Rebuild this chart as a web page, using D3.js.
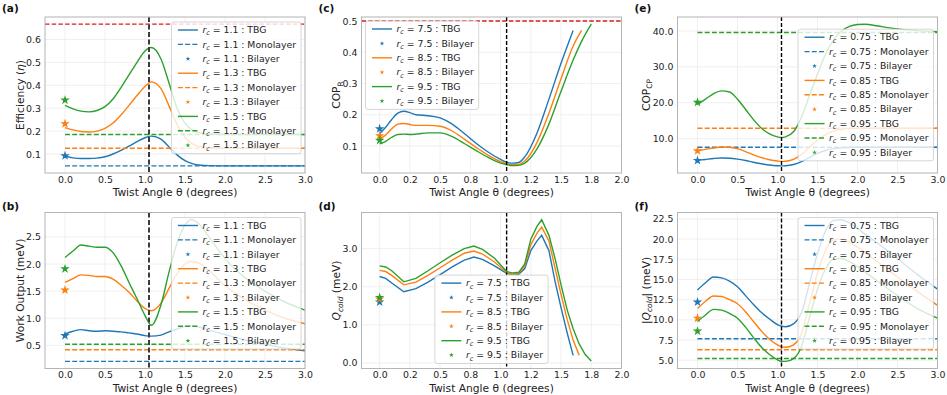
<!DOCTYPE html>
<html>
<head>
<meta charset="utf-8">
<script src="https://cdn.jsdelivr.net/npm/d3@7"></script>
<style>
  html, body { margin: 0; padding: 0; background: #fff; }
  svg { display: block; font-family: "DejaVu Sans", sans-serif; }
</style>
</head>
<body>
<svg id="vis" width="947" height="395"></svg>
<script>

// ---- data ----

// (a) efficiency, (b) work output : r_c = 1.1, 1.3, 1.5
const rcHeat = ["1.1", "1.3", "1.5"];
const effTheta = [0, 0.1, 0.2, 0.3, 0.4, 0.5, 0.6, 0.7, 0.8, 0.9, 1.0, 1.08, 1.2, 1.3, 1.4, 1.5, 1.6, 1.7, 1.8, 2.0, 2.5, 3.0];
const effTBG11 = [0.090, 0.083, 0.080, 0.080, 0.082, 0.088, 0.100, 0.116, 0.134, 0.154, 0.171, 0.178, 0.165, 0.131, 0.096, 0.071, 0.057, 0.051, 0.049, 0.048, 0.048, 0.048];
const effTBG13 = [0.215, 0.205, 0.198, 0.196, 0.200, 0.212, 0.235, 0.270, 0.312, 0.355, 0.395, 0.415, 0.385, 0.310, 0.230, 0.172, 0.143, 0.131, 0.127, 0.125, 0.125, 0.125];
const effTBG15 = [0.312, 0.297, 0.287, 0.284, 0.290, 0.307, 0.340, 0.390, 0.445, 0.500, 0.550, 0.565, 0.515, 0.410, 0.300, 0.235, 0.203, 0.191, 0.187, 0.185, 0.185, 0.185];
const effMono = [0.048, 0.125, 0.185];
const effBilayer = [0.092, 0.232, 0.335];
const carnotEff = 0.667;

const workTheta = [0, 0.1, 0.2, 0.3, 0.4, 0.5, 0.6, 0.7, 0.8, 0.9, 1.0, 1.08, 1.2, 1.3, 1.4, 1.5, 1.58, 1.7, 1.8, 2.0, 2.25, 2.5, 2.75, 3.0];
const workTBG11 = [0.71, 0.76, 0.79, 0.77, 0.76, 0.77, 0.76, 0.75, 0.73, 0.71, 0.68, 0.67, 0.69, 0.75, 0.80, 0.85, 0.86, 0.83, 0.78, 0.70, 0.60, 0.52, 0.45, 0.40];
const workTBG13 = [1.66, 1.73, 1.80, 1.79, 1.77, 1.77, 1.72, 1.61, 1.48, 1.32, 1.18, 1.14, 1.28, 1.55, 1.82, 2.00, 2.05, 2.00, 1.88, 1.60, 1.35, 1.15, 1.00, 0.90];
const workTBG15 = [2.12, 2.24, 2.35, 2.33, 2.31, 2.31, 2.21, 1.97, 1.66, 1.36, 1.05, 0.87, 1.25, 1.85, 2.38, 2.72, 2.82, 2.70, 2.50, 2.10, 1.75, 1.50, 1.30, 1.15];
const workMono = [0.205, 0.42, 0.52];
const workBilayer = [0.68, 1.52, 1.91];

// (c) COP_R, (d) Q_cold : r_c = 7.5, 8.5, 9.5
const rcFridge = ["7.5", "8.5", "9.5"];
const copTheta = [0, 0.05, 0.1, 0.15, 0.2, 0.25, 0.3, 0.4, 0.5, 0.6, 0.7, 0.8, 0.9, 1.0, 1.05, 1.1, 1.15, 1.2, 1.3, 1.4, 1.5, 1.6, 1.67, 1.75];
const copTBG75 = [0.140, 0.160, 0.185, 0.205, 0.211, 0.207, 0.200, 0.197, 0.190, 0.170, 0.140, 0.108, 0.080, 0.057, 0.048, 0.045, 0.047, 0.065, 0.140, 0.250, 0.365, 0.470, null, null];
const copTBG85 = [0.122, 0.135, 0.155, 0.170, 0.172, 0.169, 0.166, 0.166, 0.163, 0.148, 0.122, 0.095, 0.070, 0.050, 0.043, 0.040, 0.041, 0.052, 0.110, 0.205, 0.315, 0.420, 0.470, null];
const copTBG95 = [0.107, 0.115, 0.128, 0.137, 0.138, 0.137, 0.138, 0.142, 0.142, 0.130, 0.108, 0.085, 0.063, 0.045, 0.040, 0.037, 0.038, 0.045, 0.090, 0.170, 0.275, 0.375, 0.435, 0.490];
const copBilayer = [0.155, 0.133, 0.118];
const carnotCop = 0.5;

const qTheta = [0, 0.05, 0.1, 0.2, 0.3, 0.4, 0.5, 0.6, 0.7, 0.78, 0.85, 0.95, 1.05, 1.1, 1.15, 1.2, 1.25, 1.3, 1.34, 1.4, 1.45, 1.5, 1.55, 1.6, 1.65, 1.7, 1.75];
const qTBG75 = [2.27, 2.22, 2.10, 1.87, 1.95, 2.12, 2.32, 2.52, 2.70, 2.78, 2.72, 2.55, 2.35, 2.32, 2.33, 2.48, 2.95, 3.20, 3.35, 2.95, 2.15, 1.45, 0.80, 0.20, null, null, null];
const qTBG85 = [2.43, 2.40, 2.30, 2.05, 2.12, 2.30, 2.50, 2.70, 2.88, 2.94, 2.86, 2.65, 2.37, 2.33, 2.35, 2.55, 3.10, 3.40, 3.57, 3.20, 2.50, 1.80, 1.15, 0.60, 0.20, null, null];
const qTBG95 = [2.55, 2.52, 2.42, 2.13, 2.22, 2.42, 2.63, 2.83, 3.00, 3.07, 2.98, 2.75, 2.40, 2.36, 2.38, 2.60, 3.25, 3.58, 3.76, 3.35, 2.75, 2.05, 1.40, 0.90, 0.50, 0.22, 0.05];
const qBilayer = [1.60, 1.68, 1.72];

// (e) COP_CP, (f) |Q_cold| : r_c = 0.75, 0.85, 0.95
const rcPump = ["0.75", "0.85", "0.95"];
const cpTheta = [0, 0.1, 0.2, 0.3, 0.4, 0.5, 0.6, 0.7, 0.8, 0.9, 1.0, 1.05, 1.1, 1.2, 1.3, 1.4, 1.5, 1.6, 1.7, 1.8, 1.9, 2.0, 2.1, 2.25, 2.5, 2.75, 3.0];
const cpTBG75 = [3.95, 4.2, 4.45, 4.6, 4.55, 4.3, 3.9, 3.4, 3.0, 2.65, 2.45, 2.4, 2.45, 2.8, 3.6, 4.8, 5.9, 6.7, 7.2, 7.45, 7.55, 7.6, 7.6, 7.6, 7.6, 7.6, 7.6];
const cpTBG85 = [6.6, 7.0, 7.4, 7.65, 7.6, 7.2, 6.4, 5.5, 4.7, 4.1, 3.75, 3.65, 3.7, 4.2, 5.6, 7.6, 9.6, 11.1, 12.1, 12.6, 12.8, 12.9, 12.9, 12.9, 12.9, 12.9, 12.9];
const cpTBG95 = [19.5, 21.0, 22.5, 23.3, 23.0, 21.0, 18.2, 15.3, 12.9, 11.3, 10.5, 10.35, 10.5, 11.9, 16.0, 22.0, 28.0, 33.5, 37.5, 40.0, 41.3, 41.8, 41.9, 41.4, 40.6, 40.1, 39.8];
const cpMono = [7.6, 12.9, 39.6];
const cpBilayer = [3.9, 6.6, 20.1];

const qcTheta = [0, 0.1, 0.2, 0.3, 0.4, 0.5, 0.6, 0.7, 0.8, 0.9, 1.0, 1.05, 1.1, 1.2, 1.3, 1.4, 1.5, 1.6, 1.7, 1.8, 1.9, 2.0, 2.25, 2.5, 2.75, 3.0];
const qcTBG75 = [13.7, 14.6, 15.3, 15.2, 14.8, 14.1, 13.0, 11.9, 10.9, 10.1, 9.4, 9.2, 9.15, 9.5, 10.9, 14.5, 18.2, 21.0, 22.3, 22.4, 22.0, 21.3, 19.5, 17.6, 15.6, 13.8];
const qcTBG85 = [11.4, 12.3, 12.95, 12.9, 12.5, 12.0, 11.0, 9.8, 8.6, 7.6, 6.9, 6.65, 6.6, 6.9, 8.3, 12.0, 15.8, 18.6, 19.9, 20.0, 19.6, 19.0, 17.2, 15.3, 13.5, 11.8];
const qcTBG95 = [9.8, 10.6, 11.3, 11.2, 10.8, 10.2, 9.1, 7.8, 6.6, 5.7, 5.05, 4.85, 4.85, 5.2, 6.7, 10.3, 13.8, 16.3, 17.5, 17.6, 17.2, 16.6, 14.8, 13.0, 11.4, 10.2];
const qcMono = [7.65, 6.3, 5.2];
const qcBilayer = [12.2, 10.2, 8.6];

// ticks
const thetaTicksWide = [0, 0.5, 1.0, 1.5, 2.0, 2.5, 3.0];
const thetaTicksNarrow = [0, 0.25, 0.5, 0.75, 1.0, 1.25, 1.5, 1.75, 2.0];
const thetaLabelsNarrow = ["0.0", "0.2", "0.5", "0.8", "1.0", "1.2", "1.5", "1.8", "2.0"];
const magicAngle = 1.05;

// ---- layout ----
const svg = d3.select('#vis');
const COLORS = ["#1f77b4", "#ff7f0e", "#2ca02c"];
const COL_X = [45, 361.5, 677.5];
const ROW_Y = [17, 212.5];
const PW = 260, PH = 156;
const TICK_FS = 9.4;

const fmt1 = d3.format(".1f");

function tbgSeries(theta, arrays) {
    return arrays.map(function (vals) {
        return theta.map(function (t, i) { return [t, vals[i]]; });
    });
}

const panels = [
    {
        tag: "(a)", col: 0, row: 0, xDomain: [-0.25, 3.0], yDomain: [0.017, 0.698],
        xTicks: thetaTicksWide, xFmt: fmt1, yTicks: [0.1, 0.2, 0.3, 0.4, 0.5, 0.6], yFmt: fmt1,
        tbg: tbgSeries(effTheta, [effTBG11, effTBG13, effTBG15]), mono: effMono, bilayer: effBilayer,
        rc: rcHeat, hline: carnotEff, vGray: true, legend: "upper right", ylab: "eff", ylabX: -25,
        curve: d3.curveMonotoneX
    },
    {
        tag: "(b)", col: 0, row: 1, xDomain: [-0.25, 3.0], yDomain: [0.074, 2.95],
        xTicks: thetaTicksWide, xFmt: fmt1, yTicks: [0.5, 1.0, 1.5, 2.0, 2.5], yFmt: fmt1,
        tbg: tbgSeries(workTheta, [workTBG11, workTBG13, workTBG15]), mono: workMono, bilayer: workBilayer,
        rc: rcHeat, hline: null, vGray: true, legend: "upper right", ylab: "work", ylabX: -25,
        curve: d3.curveMonotoneX
    },
    {
        tag: "(c)", col: 1, row: 0, xDomain: [-0.15, 2.0], yDomain: [0.0135, 0.513],
        xTicks: thetaTicksNarrow, xFmt: function (d, i) { return thetaLabelsNarrow[i]; },
        yTicks: [0.1, 0.2, 0.3, 0.4, 0.5], yFmt: fmt1,
        tbg: tbgSeries(copTheta, [copTBG75, copTBG85, copTBG95]), mono: null, bilayer: copBilayer,
        rc: rcFridge, hline: carnotCop, vGray: false, legend: "upper left", ylab: "copr", ylabX: -25,
        curve: d3.curveMonotoneX
    },
    {
        tag: "(d)", col: 1, row: 1, xDomain: [-0.15, 2.0], yDomain: [-0.146, 3.95],
        xTicks: thetaTicksNarrow, xFmt: function (d, i) { return thetaLabelsNarrow[i]; },
        yTicks: [0, 1, 2, 3], yFmt: fmt1,
        tbg: tbgSeries(qTheta, [qTBG75, qTBG85, qTBG95]), mono: null, bilayer: qBilayer,
        rc: rcFridge, hline: null, vGray: false, legend: "lower center", ylab: "qcold", ylabX: -25,
        curve: d3.curveLinear
    },
    {
        tag: "(e)", col: 2, row: 0, xDomain: [-0.25, 3.0], yDomain: [0.42, 43.9],
        xTicks: thetaTicksWide, xFmt: fmt1, yTicks: [10, 20, 30, 40], yFmt: fmt1,
        tbg: tbgSeries(cpTheta, [cpTBG75, cpTBG85, cpTBG95]), mono: cpMono, bilayer: cpBilayer,
        rc: rcPump, hline: null, vGray: false, legend: "center right", ylab: "copcp", ylabX: -31.5,
        curve: d3.curveMonotoneX
    },
    {
        tag: "(f)", col: 2, row: 1, xDomain: [-0.25, 3.0], yDomain: [3.97, 23.3],
        xTicks: thetaTicksWide, xFmt: fmt1, yTicks: [5, 7.5, 10, 12.5, 15, 17.5, 20, 22.5], yFmt: fmt1,
        tbg: tbgSeries(qcTheta, [qcTBG75, qcTBG85, qcTBG95]), mono: qcMono, bilayer: qcBilayer,
        rc: rcPump, hline: null, vGray: false, legend: "upper right", ylab: "absq", ylabX: -31.5,
        curve: d3.curveMonotoneX
    }
];

const star = d3.symbol().type(d3.symbolStar);

panels.forEach(drawPanel);

// draw one subplot
function drawPanel(p, idx) {
    const x0 = COL_X[p.col], y0 = ROW_Y[p.row];
    const g = svg.append("g").attr("transform", "translate(" + x0 + "," + y0 + ")");

    const x = d3.scaleLinear().domain(p.xDomain).range([0, PW]);
    const y = d3.scaleLinear().domain(p.yDomain).range([PH, 0]);

    g.append("clipPath").attr("id", "clip" + idx)
        .append("rect").attr("width", PW).attr("height", PH);

    // grid
    g.selectAll(".gx").data(p.xTicks).enter().append("line")
        .attr("x1", x).attr("x2", x).attr("y1", 0).attr("y2", PH)
        .attr("stroke", "#ececec").attr("stroke-width", 0.8);
    g.selectAll(".gy").data(p.yTicks).enter().append("line")
        .attr("y1", y).attr("y2", y).attr("x1", 0).attr("x2", PW)
        .attr("stroke", "#ececec").attr("stroke-width", 0.8);

    const plot = g.append("g").attr("clip-path", "url(#clip" + idx + ")");

    const line = d3.line()
        .defined(function (d) { return d[1] != null; })
        .x(function (d) { return x(d[0]); })
        .y(function (d) { return y(d[1]); })
        .curve(p.curve);

    p.tbg.forEach(function (pts, i) {
        plot.append("path")
            .attr("d", line(pts))
            .attr("fill", "none")
            .attr("stroke", COLORS[i])
            .attr("stroke-width", 1.4);

        if (p.mono) {
            plot.append("path")
                .attr("d", d3.line()([[x(0), y(p.mono[i])], [x(3), y(p.mono[i])]]))
                .attr("stroke", COLORS[i])
                .attr("stroke-width", 1.4)
                .attr("stroke-dasharray", "5,2.2");
        }

        plot.append("path")
            .attr("d", star.size(28)())
            .attr("transform", "translate(" + x(0) + "," + y(p.bilayer[i]) + ")")
            .attr("fill", COLORS[i]);
    });

    // classical bound
    if (p.hline != null) {
        plot.append("line")
            .attr("x1", 0).attr("x2", PW)
            .attr("y1", y(p.hline)).attr("y2", y(p.hline))
            .attr("stroke", "#dd1c1c").attr("stroke-width", 1.4)
            .attr("stroke-dasharray", "4.5,2.2");
    }

    // magic angle
    plot.append("line")
        .attr("x1", x(magicAngle)).attr("x2", x(magicAngle))
        .attr("y1", 0).attr("y2", PH)
        .attr("stroke", p.vGray ? "#3c3c3c" : "#000")
        .attr("stroke-width", p.vGray ? 2 : 1.4)
        .attr("stroke-dasharray", p.vGray ? "5,2.5" : "4,2");

    // spines
    g.append("rect")
        .attr("width", PW).attr("height", PH)
        .attr("fill", "none").attr("stroke", "#b4b4b4").attr("stroke-width", 1);

    // axes
    const xAxis = g.append("g").attr("transform", "translate(0," + PH + ")")
        .call(d3.axisBottom(x).tickValues(p.xTicks).tickFormat(p.xFmt).tickSize(0).tickPadding(3));
    const yAxis = g.append("g")
        .call(d3.axisLeft(y).tickValues(p.yTicks).tickFormat(p.yFmt).tickSize(0).tickPadding(4));
    [xAxis, yAxis].forEach(function (a) {
        a.select(".domain").remove();
        a.attr("font-size", TICK_FS).attr("font-family", "DejaVu Sans");
        a.selectAll("text").attr("fill", "#222");
    });

    g.append("text")
        .attr("x", PW / 2).attr("y", PH + 23)
        .attr("text-anchor", "middle")
        .attr("font-size", 10.7).attr("fill", "#222")
        .text("Twist Angle θ (degrees)");

    // rotated y label; baseline placed so that glyphs centre on ylabX
    const yl = g.append("text")
        .attr("transform", "translate(" + (p.ylabX + 3.8) + "," + (PH / 2) + ") rotate(-90)")
        .attr("text-anchor", "middle")
        .attr("font-size", 10.7).attr("fill", "#222");
    yLabel(yl, p.ylab);

    // panel tag
    svg.append("text")
        .attr("x", x0 - 43).attr("y", y0 - (p.row ? 2.5 : 5.5))
        .attr("font-size", 10.5).attr("font-weight", "bold").attr("fill", "#111")
        .text(p.tag);

    drawLegend(g, p);
}

function yLabel(t, kind) {
    if (kind === "eff") {
        t.append("tspan").text("Efficiency (");
        t.append("tspan").attr("font-style", "italic").text("η");
        t.append("tspan").text(")");
    } else if (kind === "work") {
        t.text("Work Output (meV)");
    } else if (kind === "copr") {
        t.append("tspan").text("COP");
        t.append("tspan").attr("font-size", 7.5).attr("dy", 2.5).text("R");
    } else if (kind === "copcp") {
        t.append("tspan").text("COP");
        t.append("tspan").attr("font-size", 7.5).attr("dy", 2.5).text("CP");
    } else if (kind === "qcold") {
        t.append("tspan").attr("font-style", "italic").text("Q");
        t.append("tspan").attr("font-style", "italic").attr("font-size", 7.5).attr("dy", 2.5).text("cold");
        t.append("tspan").attr("dy", -2.5).text(" (meV)");
    } else {
        t.append("tspan").text("|");
        t.append("tspan").attr("font-style", "italic").text("Q");
        t.append("tspan").attr("font-style", "italic").attr("font-size", 7.5).attr("dy", 2.5).text("cold");
        t.append("tspan").attr("dy", -2.5).text("| (meV)");
    }
}

// legend drawn like matplotlib's: translucent box, handle + mathtext label
function drawLegend(g, p) {
    const rowH = 14.4, fs = 9.3;
    const items = [];
    p.rc.forEach(function (rc, i) {
        items.push({ rc: rc, kind: "TBG", c: i });
        if (p.mono) items.push({ rc: rc, kind: "Monolayer", c: i });
        items.push({ rc: rc, kind: "Bilayer", c: i });
    });

    const lg = g.append("g");
    const bg = lg.append("rect").attr("rx", 2.5)
        .attr("fill", "#fff").attr("fill-opacity", 0.8)
        .attr("stroke", "#cccccc").attr("stroke-width", 0.8);

    let maxW = 0;
    items.forEach(function (it, i) {
        const cy = 8 + i * rowH;
        if (it.kind === "Bilayer") {
            lg.append("path").attr("d", star.size(7)())
                .attr("transform", "translate(16.5," + cy + ")")
                .attr("fill", COLORS[it.c]);
        } else {
            lg.append("line").attr("x1", 6.5).attr("x2", 26.5).attr("y1", cy).attr("y2", cy)
                .attr("stroke", COLORS[it.c]).attr("stroke-width", 1.4)
                .attr("stroke-dasharray", it.kind === "Monolayer" ? "5,2.2" : null);
        }
        const t = lg.append("text").attr("x", 31).attr("y", cy).attr("dy", "0.35em")
            .attr("font-size", fs).attr("fill", "#222");
        t.append("tspan").attr("font-style", "italic").text("r");
        t.append("tspan").attr("font-style", "italic").attr("font-size", 6.5).attr("dy", 2.2).text("c");
        t.append("tspan").attr("dy", -2.2).text(" = " + it.rc + " : " + it.kind);
        maxW = Math.max(maxW, 31 + t.node().getComputedTextLength());
    });

    const w = maxW + 5, h = items.length * rowH + 2;
    bg.attr("width", w).attr("height", h);

    let lx, ly;
    if (p.legend === "upper right") { lx = PW - 4 - w; ly = 5; }
    else if (p.legend === "upper left") { lx = 4; ly = 4; }
    else if (p.legend === "lower center") { lx = (PW - w) / 2; ly = PH - 5 - h; }
    else { lx = PW - 4 - w; ly = (PH - h) / 2; }
    lg.attr("transform", "translate(" + lx + "," + ly + ")");
}
</script>
</body>
</html>
